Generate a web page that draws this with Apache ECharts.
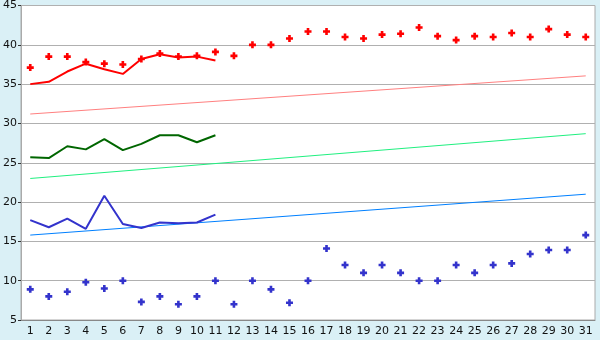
<!DOCTYPE html>
<html><head><meta charset="utf-8">
<script src="https://cdn.jsdelivr.net/npm/echarts@6/dist/echarts.min.js"></script>
<style>html,body{margin:0;padding:0;background:#daf0f6;}#c{width:600px;height:340px;}</style>
</head><body><div id="c"></div>
<script>
var days = ['1','2','3','4','5','6','7','8','9','10','11','12','13','14','15','16','17','18','19','20','21','22','23','24','25','26','27','28','29','30','31'];
var yTicks = [5,10,15,20,25,30,35,40,45];
var redPoints = [37.1,38.5,38.5,37.8,37.6,37.5,38.2,38.9,38.5,38.6,39.1,38.6,40.0,40.0,40.8,41.7,41.7,41.0,40.8,41.3,41.4,42.2,41.1,40.6,41.1,41.0,41.5,41.0,42.0,41.3,41.0];
var redLine = [35.0,35.3,36.6,37.6,36.9,36.3,38.2,38.8,38.4,38.5,38.0];
var redTrend = [31.2,36.05];
var greenLine = [25.7,25.6,27.1,26.7,28.0,26.6,27.4,28.5,28.5,27.6,28.5];
var greenTrend = [23.0,28.7];
var blueLine = [17.7,16.8,17.9,16.6,20.8,17.2,16.7,17.4,17.3,17.4,18.4];
var blueTrend = [15.8,21.0];
var bluePoints = [8.9,8.0,8.6,9.8,9.0,10.0,7.3,8.0,7.0,8.0,10.0,7.0,10.0,8.9,7.2,10.0,14.1,12.0,11.0,12.0,11.0,10.0,10.0,12.0,11.0,12.0,12.2,13.4,13.9,13.9,15.8];

var plus = 'path://M2.5,0 L5.5,0 L5.5,2.5 L8,2.5 L8,5.5 L5.5,5.5 L5.5,8 L2.5,8 L2.5,5.5 L0,5.5 L0,2.5 L2.5,2.5 Z';
function trend(t){ return [[days[0], t[0]], [days[days.length-1], t[1]]]; }
function pts(name, data, color){
  return {name:name,type:'scatter',data:data,symbol:plus,symbolSize:7,itemStyle:{color:color,opacity:1},z:5,silent:true};
}
function line(name, data, color, w, z){
  return {name:name,type:'line',data:data,symbol:'none',lineStyle:{color:color,width:w},z:z,silent:true,animation:false};
}
var chart = echarts.init(document.getElementById('c'));
chart.setOption({
  animation:false,
  backgroundColor:'#daf0f6',
  grid:{left:21,right:5,top:5,bottom:20,show:true,backgroundColor:'#ffffff',borderColor:'#aaaaaa',borderWidth:1},
  xAxis:{type:'category',data:days,boundaryGap:true,
    axisLine:{lineStyle:{color:'#888888'}},
    axisTick:{alignWithLabel:true,length:5,lineStyle:{color:'#333333'}},
    axisLabel:{color:'#111111',fontFamily:'DejaVu Sans',fontSize:11,margin:6,interval:0},
    splitLine:{show:false}},
  yAxis:{type:'value',min:yTicks[0],max:yTicks[yTicks.length-1],interval:5,
    axisLine:{show:true,lineStyle:{color:'#aaaaaa'}},
    axisTick:{show:true,length:3,lineStyle:{color:'#333333'}},
    axisLabel:{color:'#111111',fontFamily:'DejaVu Sans',fontSize:11,margin:4},
    splitLine:{lineStyle:{color:'#b0b0b0',width:1}}},
  series:[
    line('redTrend', trend(redTrend), '#ff8080', 1, 2),
    line('greenTrend', trend(greenTrend), '#20f080', 1, 2),
    line('blueTrend', trend(blueTrend), '#0080ff', 1, 2),
    line('red', redLine, '#ff0000', 2, 3),
    line('green', greenLine, '#006600', 2, 3),
    line('blue', blueLine, '#3333cc', 2, 3),
    pts('redPts', redPoints, '#ff0000'),
    pts('bluePts', bluePoints, '#3333cc')
  ]
});
</script></body></html>
